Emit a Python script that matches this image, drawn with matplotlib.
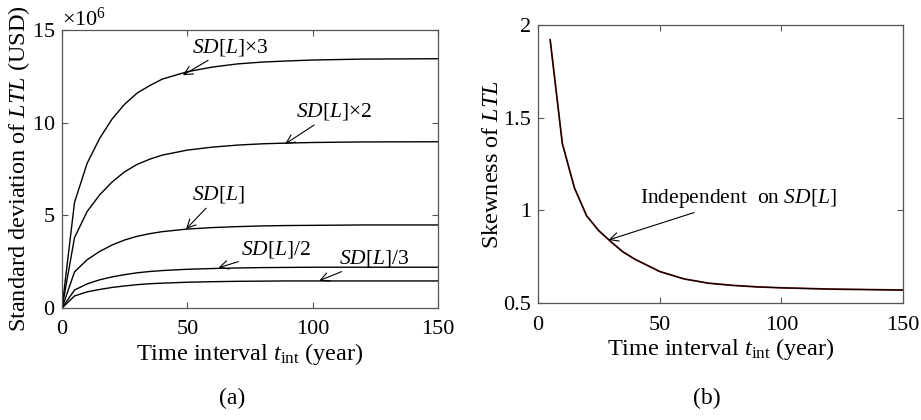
import matplotlib
matplotlib.use("Agg")
import matplotlib.pyplot as plt
from matplotlib.ticker import ScalarFormatter

plt.rcParams['font.family'] = ['Liberation Serif', 'DejaVu Serif']
plt.rcParams['mathtext.fontset'] = 'custom'
plt.rcParams['mathtext.rm'] = 'Liberation Serif'
plt.rcParams['mathtext.it'] = 'Liberation Serif:italic'

# ---- data (panel a) ----
t_sd = [0, 5, 10, 15, 20, 25, 30, 35, 40, 50, 60, 70, 80, 90, 100, 120, 150]
sd_x3 = [0, 5.7e6, 7.8e6, 9.15e6, 10.2e6, 11.0e6, 11.6e6, 12.0e6, 12.35e6, 12.75e6,
         13.0e6, 13.17e6, 13.27e6, 13.33e6, 13.38e6, 13.43e6, 13.45e6]
sd_x2 = [0, 3.8e6, 5.2e6, 6.1e6, 6.8e6, 7.35e6, 7.75e6, 8.03e6, 8.25e6, 8.52e6,
         8.68e6, 8.79e6, 8.86e6, 8.9e6, 8.93e6, 8.96e6, 8.97e6]
sd_x1 = [0, 1.95e6, 2.6e6, 3.05e6, 3.4e6, 3.67e6, 3.87e6, 4.01e6, 4.12e6, 4.26e6,
         4.34e6, 4.39e6, 4.43e6, 4.45e6, 4.46e6, 4.48e6, 4.48e6]
sd_d2 = [0, 0.97e6, 1.3e6, 1.52e6, 1.68e6, 1.8e6, 1.9e6, 1.97e6, 2.02e6, 2.09e6,
         2.13e6, 2.16e6, 2.18e6, 2.19e6, 2.2e6, 2.2e6, 2.2e6]
sd_d3 = [0, 0.65e6, 0.87e6, 1.0e6, 1.11e6, 1.19e6, 1.26e6, 1.31e6, 1.34e6, 1.39e6,
         1.42e6, 1.44e6, 1.45e6, 1.46e6, 1.46e6, 1.46e6, 1.46e6]

# ---- data (panel b) ----
t_sk = [5, 10, 15, 20, 25, 30, 35, 40, 50, 60, 70, 80, 90, 100, 120, 150]
skew = [1.92, 1.36, 1.12, 0.97, 0.89, 0.83, 0.775, 0.735, 0.67, 0.63, 0.607,
        0.595, 0.587, 0.582, 0.575, 0.57]

x_ticks = [0, 50, 100, 150]
sd_ticks = [0, 5e6, 10e6, 15e6]
sk_ticks = [0.5, 1, 1.5, 2]
sk_tick_labels = ['0.5', '1', '1.5', '2']

fig = plt.figure(figsize=(9.21, 4.2), dpi=100)
W, H = 921, 420
axA = fig.add_axes([62 / W, (H - 308) / H, 376 / W, 278 / H])
axB = fig.add_axes([538 / W, (H - 303) / H, 365 / W, 278 / H])

tick_fs = 16
label_fs = 17.5
frame_col = '#555555'
for ax in (axA, axB):
    ax.tick_params(direction='in', top=True, right=True, labelsize=tick_fs,
                   length=4, width=0.8, color=frame_col)
    ax.tick_params(axis='x', pad=9)
    ax.tick_params(axis='y', pad=5)
    for s in ax.spines.values():
        s.set_color(frame_col)
        s.set_linewidth(0.9)
    ax.set_xlim(0, 150)
    ax.set_xticks(x_ticks)
    ax.set_xlabel(r'Time interval $t_{\mathrm{int}}$ (year)', fontsize=label_fs, labelpad=1)

# panel a
for y in (sd_x3, sd_x2, sd_x1, sd_d2, sd_d3):
    axA.plot(t_sd, y, color='black', lw=1.0)
axA.set_ylim(0, 15e6)
axA.set_yticks(sd_ticks)
fmt = ScalarFormatter(useMathText=True)
fmt.set_powerlimits((6, 6))
axA.yaxis.set_major_formatter(fmt)
axA.yaxis.get_offset_text().set_fontsize(tick_fs)
axA.set_ylabel(r'Standard deviation of $LTL$ (USD)', fontsize=label_fs, labelpad=0)

arrow = dict(arrowstyle='->', color='black', lw=0.8, shrinkA=0, shrinkB=0)
ann_fs = 15.5
axA.annotate(r'$SD[L]$×3', xy=(48.2, 12.56e6), xytext=(52, 14.08e6),
             fontsize=ann_fs, va='center', ha='left', arrowprops=arrow)
axA.annotate(r'$SD[L]$×2', xy=(89, 8.85e6), xytext=(93.5, 10.59e6),
             fontsize=ann_fs, va='center', ha='left', arrowprops=arrow)
axA.annotate(r'$SD[L]$', xy=(49.5, 4.26e6), xytext=(52, 6.1e6),
             fontsize=ann_fs, va='center', ha='left', arrowprops=arrow)
axA.annotate(r'$SD[L]$/2', xy=(62.4, 2.17e6), xytext=(71.5, 3.13e6),
             fontsize=ann_fs, va='center', ha='left', arrowprops=arrow)
axA.annotate(r'$SD[L]$/3', xy=(102.6, 1.47e6), xytext=(110.5, 2.68e6),
             fontsize=ann_fs, va='center', ha='left', arrowprops=arrow)

# panel b
axB.plot(t_sk, skew, color='#8b1a1a', lw=1.3)
axB.plot(t_sk, skew, color='black', lw=0.8)
axB.set_ylim(0.5, 2)
axB.set_yticks(sk_ticks)
axB.set_yticklabels(sk_tick_labels)
axB.set_ylabel(r'Skewness of $LTL$', fontsize=label_fs, labelpad=0)
axB.annotate(r'Independent  on $SD[L]$', xy=(29, 0.84), xytext=(42, 1.065),
             fontsize=ann_fs, va='center', ha='left', arrowprops=arrow)

fig.text(232 / W, 1 - 398 / H, '(a)', fontsize=17, ha='center', va='center')
fig.text(707 / W, 1 - 398 / H, '(b)', fontsize=17, ha='center', va='center')

fig.savefig('out.png', dpi=100)
